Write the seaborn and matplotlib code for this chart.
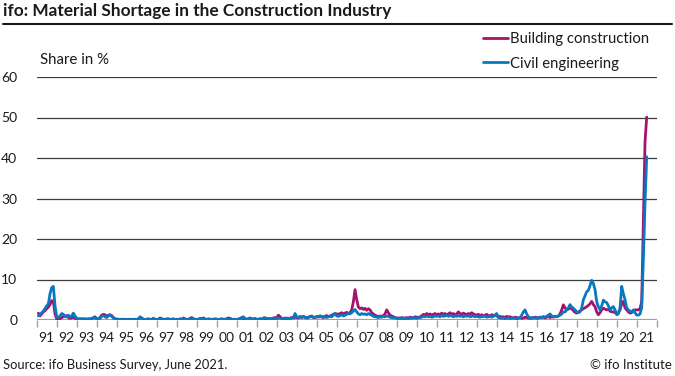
import numpy as np
import pandas as pd
import matplotlib
matplotlib.use("Agg")
import matplotlib.pyplot as plt
import seaborn as sns

title = "ifo: Material Shortage in the Construction Industry"
y_label = "Share in %"
source = "Source: ifo Business Survey, June 2021."
credit = "\u00a9 ifo Institute"
series_names = ["Building construction", "Civil engineering"]
colors = ["#A3126F", "#0A78BE"]
year_labels = ["91", "92", "93", "94", "95", "96", "97", "98", "99", "00",
               "01", "02", "03", "04", "05", "06", "07", "08", "09", "10",
               "11", "12", "13", "14", "15", "16", "17", "18", "19", "20", "21"]
first_year = 1991
y_ticks = [0, 10, 20, 30, 40, 50, 60]

# monthly values Jan 1991 .. Jun 2021 (%)
building = [
    1.7, 1.0, 1.5, 2.0, 2.3, 2.8, 3.2, 3.8, 4.8, 4.5, 1.5, 0.3,
    0.2, 0.3, 0.6, 0.8, 0.9, 1.1, 0.6, 0.4, 0.5, 0.8, 0.4, 0.2,
    0.2, 0.3, 0.2, 0.3, 0.2, 0.2, 0.3, 0.2, 0.3, 0.5, 0.7, 0.2,
    0.3, 0.6, 1.2, 1.4, 1.3, 0.9, 1.2, 1.3, 1.1, 0.6, 0.3, 0.2,
    0.2, 0.1, 0.2, 0.1, 0.2, 0.1, 0.1, 0.2, 0.1, 0.1, 0.2, 0.1,
    0.3, 0.6, 0.4, 0.2, 0.1, 0.2, 0.3, 0.1, 0.2, 0.4, 0.2, 0.1,
    0.2, 0.5, 0.3, 0.2, 0.1, 0.3, 0.2, 0.1, 0.2, 0.3, 0.1, 0.2,
    0.1, 0.3, 0.2, 0.5, 0.3, 0.1, 0.2, 0.4, 0.6, 0.3, 0.2, 0.1,
    0.2, 0.4, 0.3, 0.5, 0.2, 0.1, 0.3, 0.2, 0.1, 0.2, 0.3, 0.2,
    0.1, 0.2, 0.3, 0.2, 0.1, 0.3, 0.5, 0.4, 0.2, 0.1, 0.2, 0.1,
    0.2, 0.4, 0.6, 0.3, 0.2, 0.1, 0.3, 0.5, 0.3, 0.2, 0.4, 0.2,
    0.1, 0.3, 0.2, 0.5, 0.3, 0.2, 0.4, 0.3, 0.2, 0.5, 0.6, 0.4,
    1.2, 0.8, 0.4, 0.3, 0.5, 0.3, 0.2, 0.4, 0.6, 0.5, 0.7, 0.6,
    0.5, 0.8, 0.6, 0.9, 0.7, 0.5, 0.6, 0.8, 1.0, 0.7, 0.6, 0.8,
    0.7, 1.0, 0.8, 0.6, 0.9, 1.1, 0.8, 0.9, 1.2, 1.4, 1.6, 1.5,
    1.4, 1.6, 1.8, 1.5, 1.7, 1.9, 1.6, 1.8, 2.5, 4.5, 7.5, 5.0,
    3.2, 2.8, 3.0, 2.6, 2.9, 2.4, 2.8, 2.5, 1.8, 1.5, 1.2, 1.0,
    0.8, 1.0, 0.9, 1.1, 1.5, 2.5, 1.8, 1.2, 1.0, 0.8, 0.6, 0.5,
    0.5, 0.4, 0.6, 0.5, 0.4, 0.6, 0.5, 0.7, 0.6, 0.5, 0.8, 0.7,
    0.6, 0.8, 1.0, 1.4, 1.2, 1.6, 1.3, 1.5, 1.2, 1.4, 1.6, 1.3,
    1.5, 1.3, 1.7, 1.4, 1.6, 1.3, 1.5, 1.8, 1.4, 1.6, 1.3, 1.5,
    2.0, 1.6, 1.4, 1.7, 1.5, 1.3, 1.6, 1.4, 1.8, 1.5, 1.3, 1.2,
    1.4, 1.1, 1.3, 1.0, 1.2, 1.4, 1.1, 1.0, 1.3, 1.1, 1.2, 1.0,
    0.8, 0.9, 0.7, 0.8, 0.6, 0.9, 0.7, 0.8, 0.6, 0.5, 0.7, 0.6,
    0.5, 0.6, 0.4, 0.5, 0.7, 0.6, 0.5, 0.4, 0.6, 0.5, 0.7, 0.6,
    0.5, 0.7, 0.6, 0.8, 0.5, 0.7, 0.9, 0.6, 0.8, 0.7, 0.9, 0.8,
    1.0, 1.5, 2.5, 3.75, 3.0, 2.5, 2.7, 2.9, 2.8, 2.3, 1.9, 1.7,
    2.0, 2.2, 2.5, 2.8, 3.0, 3.3, 3.6, 4.0, 4.6, 3.8, 3.3, 2.0,
    1.3, 1.8, 2.5, 2.9, 2.7, 2.5, 2.6, 2.2, 2.0, 2.0, 1.8, 1.7,
    1.8, 2.5, 4.0, 4.6, 3.0, 2.5, 2.0, 1.7, 1.8, 2.2, 2.5, 2.5,
    2.5, 2.8, 4.5, 24.0, 44.0, 50.1,
]
civil = [
    1.0, 1.3, 1.8, 2.2, 2.8, 3.5, 4.0, 6.5, 8.0, 8.3, 3.5, 0.8,
    0.6, 1.0, 1.6, 1.4, 0.9, 0.8, 1.2, 0.7, 1.0, 1.7, 1.0, 0.4,
    0.3, 0.2, 0.3, 0.2, 0.3, 0.2, 0.2, 0.3, 0.4, 0.6, 0.8, 0.3,
    0.2, 0.4, 0.9, 1.1, 0.8, 0.6, 1.0, 1.2, 0.9, 0.5, 0.3, 0.2,
    0.1, 0.2, 0.1, 0.2, 0.1, 0.1, 0.2, 0.1, 0.1, 0.2, 0.1, 0.1,
    0.2, 0.8, 0.5, 0.2, 0.1, 0.2, 0.1, 0.2, 0.1, 0.1, 0.2, 0.1,
    0.1, 0.3, 0.2, 0.1, 0.2, 0.1, 0.3, 0.2, 0.1, 0.2, 0.1, 0.1,
    0.1, 0.2, 0.1, 0.3, 0.2, 0.1, 0.1, 0.2, 0.3, 0.1, 0.2, 0.1,
    0.1, 0.2, 0.1, 0.2, 0.3, 0.1, 0.2, 0.1, 0.2, 0.1, 0.1, 0.2,
    0.1, 0.2, 0.1, 0.1, 0.2, 0.3, 0.2, 0.1, 0.1, 0.2, 0.1, 0.1,
    0.2, 0.3, 0.5, 0.8, 0.4, 0.2, 0.3, 0.2, 0.1, 0.3, 0.2, 0.1,
    0.2, 0.3, 0.2, 0.4, 0.6, 0.3, 0.2, 0.3, 0.4, 0.3, 0.2, 0.4,
    0.5, 0.4, 0.3, 0.4, 0.3, 0.5, 0.4, 0.3, 0.5, 0.6, 1.6, 0.8,
    0.6, 0.9, 0.7, 0.8, 0.6, 0.5, 0.7, 0.9, 0.8, 0.6, 0.7, 0.9,
    0.8, 1.0, 0.7, 0.9, 0.8, 0.6, 0.9, 1.0, 0.8, 1.2, 1.6, 1.0,
    0.9, 1.1, 1.3, 1.0, 1.2, 1.4, 1.6, 1.5, 1.8, 2.2, 2.6, 2.0,
    1.5, 1.3, 1.6, 1.4, 1.5, 1.3, 1.6, 1.4, 1.2, 0.9, 0.8, 0.7,
    0.6, 0.8, 0.7, 0.9, 0.8, 1.0, 0.9, 0.7, 0.6, 0.5, 0.6, 0.4,
    0.4, 0.5, 0.3, 0.4, 0.5, 0.4, 0.3, 0.5, 0.4, 0.6, 0.5, 0.4,
    0.5, 0.6, 0.7, 0.9, 0.8, 1.0, 0.8, 0.9, 0.7, 0.8, 1.0, 0.9,
    1.0, 0.8, 1.1, 0.9, 1.0, 1.2, 0.9, 1.1, 1.0, 0.8, 1.0, 0.9,
    1.1, 0.9, 1.0, 0.8, 1.0, 0.9, 1.1, 0.8, 0.9, 1.0, 0.8, 0.9,
    0.8, 0.7, 0.9, 0.8, 1.0, 0.7, 0.8, 0.9, 0.7, 0.9, 1.2, 1.6,
    0.6, 0.5, 0.4, 0.5, 0.3, 0.4, 0.5, 0.3, 0.4, 0.5, 0.4, 0.3,
    0.4, 0.6, 1.2, 2.0, 2.5, 1.5, 0.8, 0.5, 0.4, 0.6, 0.5, 0.4,
    0.5, 0.7, 0.6, 0.8, 0.7, 0.9, 1.2, 1.5, 1.0, 0.8, 0.9, 0.8,
    1.0, 1.2, 1.5, 2.0, 2.0, 2.5, 3.0, 3.8, 3.2, 2.9, 2.5, 2.0,
    1.8, 2.0, 3.0, 5.0, 6.0, 7.0, 7.3, 8.5, 9.8, 9.0, 7.5, 4.5,
    3.3, 2.5, 3.5, 4.9, 4.5, 4.3, 3.5, 2.5, 3.0, 3.3, 2.5, 1.3,
    1.5, 3.0, 8.3, 6.5, 5.0, 3.0, 2.5, 2.2, 2.0, 2.5, 1.8, 1.2,
    1.2, 1.5, 3.0, 15.0, 29.0, 40.3,
]

# long-form table
n = len(building)
t = first_year + (np.arange(n) + 1) / 12.0
df = pd.DataFrame({
    "t": np.concatenate([t, t]),
    "value": building + civil,
    "series": [series_names[0]] * n + [series_names[1]] * n,
})

sns.set_theme(style="white")
plt.rcParams["font.family"] = ["Lato", "DejaVu Sans"]

W, H = 675, 376
fig = plt.figure(figsize=(W / 100, H / 100), dpi=100)
fig.patch.set_facecolor("white")

def fx(px):
    return px / W

def fy(py):
    return 1 - py / H

ax_left, ax_right, ax_top, ax_bot = 36.7, 656.7, 77, 320
ax = fig.add_axes([fx(ax_left), fy(ax_bot), fx(ax_right - ax_left), (ax_bot - ax_top) / H])
ax.set_facecolor("white")

# grid lines
for yv in y_ticks[1:]:
    ax.axhline(yv, color="#3c3c3c", lw=0.9, zorder=1)
ax.axhline(0, color="#a0a0a0", lw=1.6, zorder=1)

sns.lineplot(data=df, x="t", y="value", hue="series", palette=colors,
             hue_order=series_names, linewidth=2.0, ax=ax, zorder=3,
             legend=True)

ax.set_xlim(first_year, first_year + len(year_labels))
ax.set_ylim(0, 60)
for s in ax.spines.values():
    s.set_visible(False)

# x ticks: marks at year boundaries, labels centered in years
years = np.arange(first_year, first_year + len(year_labels) + 1)
ax.set_xticks(years, minor=True)
ax.set_xticks(years[:-1] + 0.5)
ax.set_xticklabels(year_labels)
ax.tick_params(axis="x", which="minor", length=5, width=1.0, color="#a0a0a0",
               direction="out", bottom=True)
ax.tick_params(axis="x", which="major", length=0, pad=9, labelsize=10,
               labelcolor="#1a1a1a")
ax.set_yticks(y_ticks)
ax.set_yticklabels([str(v) for v in y_ticks])
ax.tick_params(axis="y", length=0, pad=14, labelsize=10, labelcolor="#1a1a1a")
ax.set_xlabel("")
ax.set_ylabel("")
ax.grid(False)

handles, labels = ax.get_legend_handles_labels()
leg = ax.legend(handles, labels, loc="upper left",
                bbox_to_anchor=(fx(483), fy(32)), bbox_transform=fig.transFigure,
                frameon=False, fontsize=10.7, handlelength=1.7,
                handletextpad=0.15, labelspacing=0.72, borderpad=0,
                borderaxespad=0)
for lh in leg.get_lines():
    lh.set_linewidth(2.0)
for txt in leg.get_texts():
    txt.set_color("#1a1a1a")

# texts
fig.text(fx(3), fy(11), title, fontsize=12.4, fontweight="bold",
         va="center", ha="left", color="#1a1a1a")
fig.add_artist(plt.Line2D([fx(3), fx(672)], [fy(23.5), fy(23.5)],
                          color="#1a1a1a", lw=1.5))
fig.text(fx(40), fy(60), y_label, fontsize=10.8, va="center", ha="left",
         color="#1a1a1a")
fig.text(fx(3), fy(365), source, fontsize=9.3, va="center", ha="left",
         color="#1a1a1a")
fig.text(fx(672), fy(365), credit, fontsize=9.5, va="center", ha="right",
         color="#1a1a1a")

fig.savefig("out.png", dpi=100, facecolor="white")
